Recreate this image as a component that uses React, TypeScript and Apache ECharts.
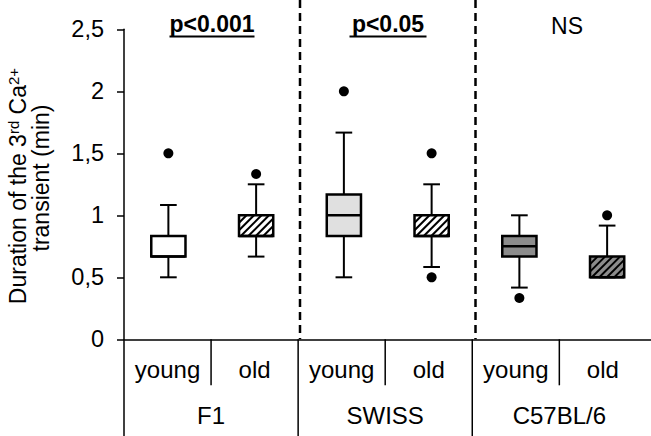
import React, { useEffect, useRef } from 'react';
import * as echarts from 'echarts';

// ---------- data ----------
const categories = ['young', 'old', 'young', 'old', 'young', 'old'];
const groups = ['F1', 'SWISS', 'C57BL/6'];
const lowerWhisker = [0.5, 0.667, 0.5, 0.583, 0.417, 0.5];
const q1 = [0.667, 0.833, 0.833, 0.833, 0.667, 0.5];
const median = [0.667, 0.833, 1.0, 0.833, 0.75, 0.5];
const q3 = [0.833, 1.0, 1.167, 1.0, 0.833, 0.667];
const upperWhisker = [1.083, 1.25, 1.667, 1.25, 1.0, 0.917];
const outlierCategory = [0, 1, 2, 3, 3, 4, 5];
const outlierValue = [1.5, 1.333, 2.0, 1.5, 0.5, 0.333, 1.0];
const significance = ['p<0.001', 'p<0.05', 'NS'];
const yTitleLine1 = '{a|Duration of the 3}{s|rd}{a| Ca}{s|2+}';
const yTitleLine2 = 'transient (min)';

// ---------- styles ----------
const FONT = '"Liberation Sans", Arial, Helvetica, sans-serif';
const boxFill = ['#ffffff', '#ffffff', '#e0e0e0', '#ffffff', '#8c8c8c', '#8c8c8c'];
const boxHatched = [false, true, false, true, false, true];
const sigX = [212, 388, 567];
const sigBold = [true, true, false];
const sigHalfWidth = [42.5, 38.5, 0];

export default function App() {
  const ref = useRef<HTMLDivElement>(null);

  useEffect(() => {
    const chart = echarts.init(ref.current as HTMLDivElement, null, {
      renderer: 'svg',
      width: 651,
      height: 436,
    });

    const boxData = categories.map((_, i) => [
      i,
      lowerWhisker[i],
      q1[i],
      median[i],
      q3[i],
      upperWhisker[i],
    ]);
    const outlierData = outlierCategory.map((c, i) => [c, outlierValue[i]]);
    const tableSeparators = categories.map((_, i) => [i, i % 2 === 0 ? 1 : 0]);
    const groupDividers = groups.slice(1).map((_, g) => [g * 2 + 1, 0]);

    const gridTop = 29.3;
    const gridHeight = 310;

    const renderBox = (params: any, api: any) => {
      const i = api.value(0);
      const bw = api.size([1, 0])[0];
      const cx = api.coord([i, 0])[0];
      const yLow = api.coord([i, api.value(1)])[1];
      const yQ1 = api.coord([i, api.value(2)])[1];
      const yMed = api.coord([i, api.value(3)])[1];
      const yQ3 = api.coord([i, api.value(4)])[1];
      const yHigh = api.coord([i, api.value(5)])[1];
      const boxW = bw * 0.39;
      const capW = bw * 0.19;
      const x0 = cx - boxW / 2;
      const x1 = cx + boxW / 2;
      const h = yQ1 - yQ3;
      const children: any[] = [];
      const ln = (a: number, b: number, c: number, d: number, w = 2) => ({
        type: 'line',
        shape: { x1: a, y1: b, x2: c, y2: d },
        style: { stroke: '#000', lineWidth: w },
      });
      children.push(ln(cx, yQ3, cx, yHigh));
      children.push(ln(cx, yQ1, cx, yLow));
      children.push(ln(cx - capW / 2, yHigh, cx + capW / 2, yHigh));
      children.push(ln(cx - capW / 2, yLow, cx + capW / 2, yLow));
      children.push({
        type: 'rect',
        shape: { x: x0, y: yQ3, width: boxW, height: h },
        style: { fill: boxFill[i], stroke: 'none' },
      });
      if (boxHatched[i]) {
        const step = 7.5;
        for (let c = x0 - h; c < x1; c += step) {
          const tStart = Math.max(0, x0 - c);
          const tEnd = Math.min(h, x1 - c);
          if (tEnd > tStart) {
            children.push(ln(c + tStart, yQ1 - tStart, c + tEnd, yQ1 - tEnd, 2));
          }
        }
      }
      children.push({
        type: 'rect',
        shape: { x: x0, y: yQ3, width: boxW, height: h },
        style: { fill: 'none', stroke: '#000', lineWidth: 2.5 },
      });
      children.push(ln(x0, yMed, x1, yMed, 2.5));
      return { type: 'group', children };
    };

    const renderTableSeparator = (params: any, api: any) => {
      const i = api.value(0);
      const isGroup = api.value(1) === 1;
      const bw = api.size([1, 0])[0];
      const p = api.coord([i, 0]);
      const x = p[0] - bw / 2;
      return {
        type: 'line',
        shape: { x1: x, y1: p[1], x2: x, y2: p[1] + (isGroup ? 100 : 46) },
        style: { stroke: '#000', lineWidth: 1.5 },
      };
    };

    const renderGroupDivider = (params: any, api: any) => {
      const i = api.value(0);
      const bw = api.size([1, 0])[0];
      const p = api.coord([i, 0]);
      const x = p[0] + bw / 2;
      return {
        type: 'line',
        shape: { x1: x, y1: 0, x2: x, y2: p[1] },
        style: { stroke: '#000', lineWidth: 2.5, lineDash: [8, 5] },
      };
    };

    const labelStyle = { color: '#000', fontFamily: FONT, fontSize: 24 };

    const graphic: any[] = [
      {
        type: 'text',
        x: 18,
        y: 186,
        rotation: Math.PI / 2,
        silent: true,
        style: {
          text: yTitleLine1,
          align: 'center',
          verticalAlign: 'middle',
          fill: '#000',
          fontFamily: FONT,
          fontSize: 23,
          rich: {
            a: { fontSize: 23, fontFamily: FONT, lineHeight: 24, fill: '#000' },
            s: { fontSize: 15, fontFamily: FONT, lineHeight: 15, verticalAlign: 'top', fill: '#000' },
          },
        },
      },
      {
        type: 'text',
        x: 41,
        y: 178,
        rotation: Math.PI / 2,
        silent: true,
        style: {
          text: yTitleLine2,
          align: 'center',
          verticalAlign: 'middle',
          fill: '#000',
          fontFamily: FONT,
          fontSize: 23,
        },
      },
    ];
    significance.forEach((t, g) => {
      graphic.push({
        type: 'text',
        x: sigX[g],
        y: sigBold[g] ? 23.5 : 25.5,
        silent: true,
        style: {
          text: t,
          align: 'center',
          verticalAlign: 'middle',
          fill: '#000',
          fontFamily: FONT,
          fontSize: 23,
          fontWeight: sigBold[g] ? 'bold' : 'normal',
        },
      });
      if (sigBold[g]) {
        graphic.push({
          type: 'line',
          silent: true,
          shape: {
            x1: sigX[g] - sigHalfWidth[g],
            y1: 36.5,
            x2: sigX[g] + sigHalfWidth[g],
            y2: 36.5,
          },
          style: { stroke: '#000', lineWidth: 2 },
        });
      }
    });

    chart.setOption({
      animation: false,
      backgroundColor: '#fff',
      grid: [
        { left: 124, top: gridTop, width: 522.4, height: gridHeight },
        { left: 124.5, top: gridTop, width: 530.4, height: gridHeight },
      ],
      xAxis: [
        {
          type: 'category',
          gridIndex: 0,
          position: 'bottom',
          data: categories,
          axisLine: { show: false },
          axisTick: { show: false },
          axisLabel: { ...labelStyle, margin: 18.5, interval: 0 },
        },
        {
          type: 'category',
          gridIndex: 0,
          position: 'bottom',
          offset: 0,
          data: groups,
          axisLine: { show: false },
          axisTick: { show: false },
          axisLabel: { ...labelStyle, margin: 64.5, interval: 0 },
        },
        {
          type: 'category',
          gridIndex: 1,
          position: 'bottom',
          data: categories,
          axisLine: { show: true, lineStyle: { color: '#000', width: 1.5 } },
          axisTick: { show: false },
          axisLabel: { show: false },
        },
      ],
      yAxis: [
        {
          type: 'value',
          gridIndex: 0,
          min: 0,
          max: 2.5,
          interval: 0.5,
          axisLine: { show: true, lineStyle: { color: '#000', width: 1.5 } },
          axisTick: { show: true, length: 7, lineStyle: { color: '#000', width: 1.5 } },
          axisLabel: {
            ...labelStyle,
            fontSize: 23.5,
            margin: 20,
            formatter: (v: number) => String(v).replace('.', ','),
          },
          splitLine: { show: false },
        },
        {
          type: 'value',
          gridIndex: 1,
          min: 0,
          max: 2.5,
          interval: 0.5,
          show: false,
          splitLine: { show: false },
        },
      ],
      series: [
        {
          type: 'custom',
          name: 'table',
          xAxisIndex: 0,
          yAxisIndex: 0,
          silent: true,
          renderItem: renderTableSeparator,
          data: tableSeparators,
          z: 1,
        },
        {
          type: 'custom',
          name: 'dividers',
          xAxisIndex: 2,
          yAxisIndex: 1,
          silent: true,
          renderItem: renderGroupDivider,
          data: groupDividers,
          z: 1,
        },
        {
          type: 'custom',
          name: 'boxes',
          xAxisIndex: 2,
          yAxisIndex: 1,
          silent: true,
          renderItem: renderBox,
          data: boxData,
          z: 3,
        },
        {
          type: 'scatter',
          name: 'outliers',
          xAxisIndex: 2,
          yAxisIndex: 1,
          silent: true,
          symbol: 'circle',
          symbolSize: 10,
          itemStyle: { color: '#000', opacity: 1 },
          data: outlierData,
          z: 4,
        },
      ],
      graphic,
    });

    return () => {
      chart.dispose();
    };
  }, []);

  return (
    <div
      ref={ref}
      style={{ position: 'fixed', left: 0, top: 0, width: 651, height: 436, background: '#fff' }}
    />
  );
}
